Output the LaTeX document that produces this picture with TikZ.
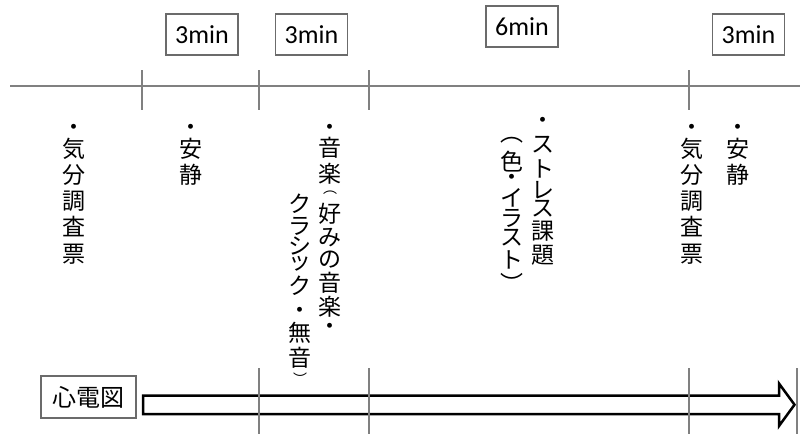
\documentclass[tikz,border=0pt]{standalone}
\usepackage{fontspec}
\setmainfont{Carlito}
\newfontfamily\jpfont{Noto Sans CJK JP}
\definecolor{linegray}{gray}{0.5}
\definecolor{boxgray}{gray}{0.42}
\begin{document}
\begin{tikzpicture}[x=1pt,y=-1pt,
  jpc/.style={inner sep=0pt, font=\jpfont\fontsize{23}{23}\selectfont},
  jpsmall/.style={inner sep=0pt, font=\jpfont\fontsize{14}{14}\selectfont},
  minbox/.style={draw=boxgray, line width=1.2pt, minimum width=72pt, minimum height=41pt, inner sep=0pt, font=\fontsize{26}{26}\selectfont},
  axisline/.style={draw=linegray, line width=1.2pt},
  blockarrow/.style={draw=black, line width=2.5pt, fill=white, line join=miter}]
\useasboundingbox (0,0) rectangle (800,434);

% timeline
\draw[axisline] (10,86) -- (800,86);
\foreach \x in {142,259,369,689} \draw[axisline] (\x,70) -- (\x,110);

% duration boxes
\node[minbox] (m1) at (202,34.5) {3min};
\node[minbox] (m2) at (311.5,34.5) {3min};
\node[minbox] (m3) at (522,26.5) {6min};
\node[minbox] (m4) at (748.5,34.5) {3min};

% vertical texts
\foreach \c/\y [count=\i] in {・/130,気/149,分/175,調/201,査/227,票/254}
  \node[jpc] (ca\i) at (74,\y) {\c};
\foreach \c/\y [count=\i] in {・/130,安/149,静/175}
  \node[jpc] (cb\i) at (191,\y) {\c};
\foreach \c/\y [count=\i] in {・/130,音/148,楽/174,好/214,み/238,の/260,音/283,楽/307,・/329}
  \node[jpc] (cc\i) at (330,\y) {\c};
\node[jpsmall] (ccp) at (330,193) {︵};
\foreach \c/\y [count=\i] in {ク/204,ラ/226,シ/246,ッ/264,ク/286,・/313,無/333,音/358}
  \node[jpc] (cd\i) at (300,\y) {\c};
\node[jpsmall] (cdp) at (300,379) {︶};
\foreach \c/\y [count=\i] in {・/123,ス/145,ト/169,レ/190,ス/209,課/231,題/255}
  \node[jpc] (ce\i) at (543,\y) {\c};
\foreach \c/\y [count=\i] in {︵/140,色/162,・/180,イ/198,ラ/218,ス/238,ト/260,︶/283}
  \node[jpc] (cf\i) at (512,\y) {\c};
\foreach \c/\y [count=\i] in {・/130,気/149,分/175,調/201,査/227,票/254}
  \node[jpc] (cg\i) at (692,\y) {\c};
\foreach \c/\y [count=\i] in {・/130,安/149,静/175}
  \node[jpc] (ch\i) at (738,\y) {\c};

% ECG label
\node[draw=boxgray, line width=1.3pt, minimum width=95pt, minimum height=42pt, inner sep=0pt,
      font=\jpfont\fontsize{24}{24}\selectfont] (ecg) at (88.5,397) {心電図};

% block arrow
\coordinate (a1) at (143,395.5);
\coordinate (a2) at (779,395.5);
\coordinate (a3) at (779,383.5);
\coordinate (tip) at (794.5,404.7);
\coordinate (a5) at (779,426);
\coordinate (a6) at (779,414);
\coordinate (a7) at (143,414);
\draw[blockarrow] (a1) -- (a2) -- (a3) -- (tip) -- (a5) -- (a6) -- (a7) -- cycle;

% lower ticks
\foreach \x in {259,369,689,797} \draw[axisline] (\x,368) -- (\x,434);
\end{tikzpicture}
\end{document}
